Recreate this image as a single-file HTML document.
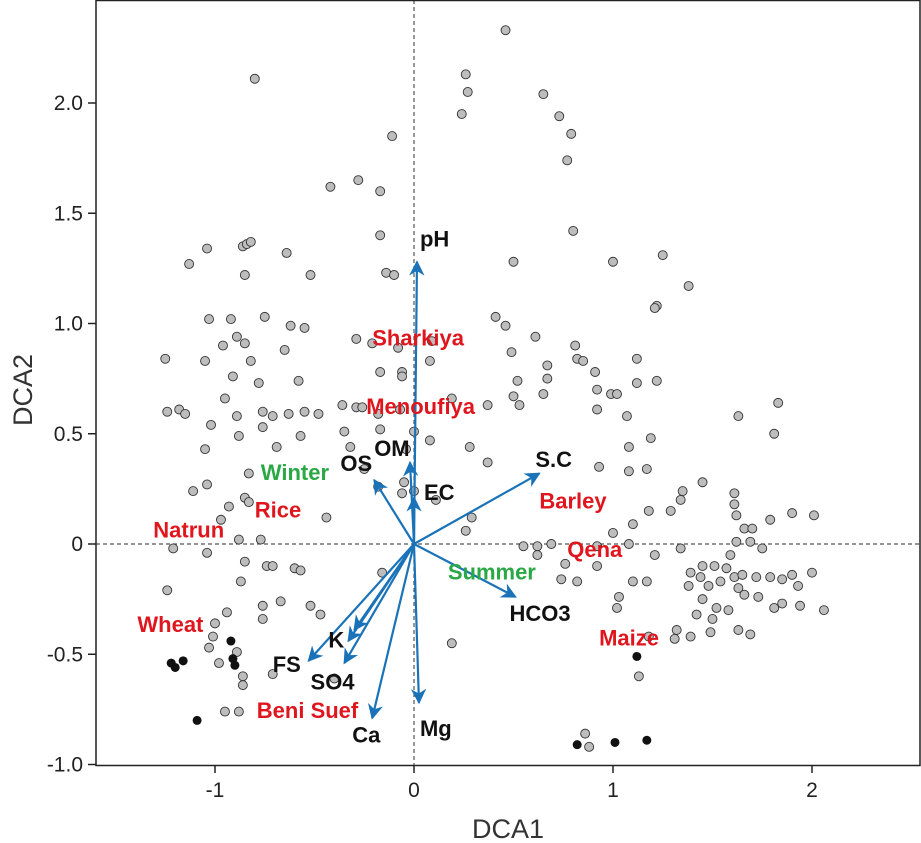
<!DOCTYPE html>
<html><head><meta charset="utf-8"><style>
html,body{margin:0;padding:0;background:#fff;}
svg{display:block;font-family:"Liberation Sans",sans-serif;}
</style></head><body>
<svg id="chart" width="921" height="843" viewBox="0 0 921 843" xmlns="http://www.w3.org/2000/svg">
<defs><marker id="ah" viewBox="0 0 10 10" refX="9" refY="5" markerWidth="7" markerHeight="7" orient="auto-start-reverse"><path d="M0,0 L10,5 L0,10 L3,5 z" fill="#1a73b8"/></marker></defs>
<g id="grid"></g><g id="pts"></g><g id="arrows"></g><g id="labels"></g><g id="axes"></g>
</svg>
<script>
const xTicks=[-1,0,1,2];
const xTickLabels=["-1","0","1","2"];
const yTicks=[-1,-0.5,0,0.5,1,1.5,2];
const yTickLabels=["-1.0","-0.5","0","0.5","1.0","1.5","2.0"];
const grayX=[0.46,0.26,0.27,0.24,0.65,0.73,0.79,0.77,-0.80,-0.11,-0.42,-0.28,-0.17,-0.17,0.80,-1.13,-1.04,-0.86,-0.84,-0.82,-0.64,-0.85,-0.52,-0.14,-0.10,0.50,1.00,1.25,1.38,1.22,1.21,-1.03,-0.92,-0.75,-0.62,-0.55,-0.29,-0.21,-0.08,-1.25,-1.05,-0.89,-0.85,-0.82,-0.96,-0.65,0.09,0.08,-0.06,-0.06,-0.17,0.41,0.46,0.61,0.81,0.82,0.85,0.67,0.49,0.52,0.67,0.91,1.12,1.12,1.22,0.92,0.99,1.02,0.50,0.53,0.65,1.07,0.92,0.37,0.19,-0.91,-0.78,-0.58,-1.18,-1.24,-1.15,-0.95,-0.89,-0.76,-0.71,-0.63,-0.55,-0.48,-0.36,-0.35,-0.29,-0.26,-0.18,-0.07,0.08,0.00,-1.05,-1.02,-0.88,-0.76,-0.69,-0.57,-0.32,-0.25,-0.17,-0.04,0.28,0.37,1.83,1.81,1.63,1.19,1.08,1.08,0.93,1.17,1.35,1.34,1.29,1.45,1.61,1.61,1.62,1.66,1.70,1.79,1.90,2.01,1.18,1.10,1.08,1.00,0.92,0.69,0.55,0.62,0.29,0.26,0.11,-0.05,-0.06,0.00,-0.18,-0.83,-1.04,-1.11,-0.85,-0.83,-0.93,-0.97,-0.44,-0.88,-0.77,-1.21,-1.04,-0.85,-0.74,-0.71,-0.60,-0.57,-0.87,-1.24,-0.94,-0.76,-0.76,-0.67,-0.52,-0.47,-0.16,-1.00,-1.01,-0.89,-1.03,-0.86,-0.86,-0.95,-0.88,-0.71,0.19,0.62,0.76,0.92,0.82,0.74,1.03,1.02,1.10,1.17,1.21,1.34,1.45,1.39,1.38,1.44,1.48,1.51,1.54,1.57,1.59,1.62,1.69,1.75,1.61,1.65,1.63,1.66,1.72,1.79,1.85,1.90,1.93,2.00,2.06,1.94,1.85,1.81,1.73,1.58,1.52,1.45,1.50,1.42,1.49,1.39,1.31,1.18,1.63,1.69,1.32,1.13,0.86,0.88,-0.40,-0.98];
const grayY=[2.33,2.13,2.05,1.95,2.04,1.94,1.86,1.74,2.11,1.85,1.62,1.65,1.60,1.40,1.42,1.27,1.34,1.35,1.36,1.37,1.32,1.22,1.22,1.23,1.22,1.28,1.28,1.31,1.17,1.08,1.07,1.02,1.02,1.03,0.99,0.98,0.93,0.91,0.89,0.84,0.83,0.94,0.91,0.83,0.90,0.88,0.92,0.83,0.78,0.76,0.78,1.03,0.99,0.94,0.90,0.84,0.83,0.81,0.87,0.74,0.75,0.78,0.84,0.73,0.74,0.70,0.68,0.68,0.67,0.63,0.68,0.58,0.61,0.63,0.66,0.76,0.73,0.74,0.61,0.60,0.59,0.66,0.58,0.60,0.58,0.59,0.60,0.59,0.63,0.51,0.62,0.62,0.59,0.61,0.47,0.51,0.43,0.54,0.49,0.53,0.44,0.49,0.44,0.34,0.52,0.43,0.44,0.37,0.64,0.50,0.58,0.48,0.44,0.33,0.35,0.34,0.24,0.20,0.15,0.28,0.23,0.18,0.13,0.07,0.07,0.11,0.14,0.13,0.15,0.09,0.00,0.05,-0.01,0.00,-0.01,-0.01,0.12,0.06,0.20,0.28,0.23,0.24,0.26,0.32,0.27,0.24,0.21,0.19,0.17,0.11,0.12,0.02,0.02,-0.02,-0.04,-0.08,-0.10,-0.10,-0.11,-0.12,-0.17,-0.21,-0.31,-0.28,-0.34,-0.26,-0.28,-0.32,-0.13,-0.36,-0.42,-0.49,-0.47,-0.60,-0.64,-0.76,-0.76,-0.59,-0.45,-0.05,-0.09,-0.10,-0.17,-0.16,-0.24,-0.29,-0.17,-0.17,-0.05,-0.02,-0.10,-0.13,-0.19,-0.15,-0.19,-0.10,-0.17,-0.11,-0.05,0.01,0.01,-0.02,-0.15,-0.14,-0.20,-0.23,-0.15,-0.15,-0.16,-0.14,-0.19,-0.13,-0.30,-0.28,-0.27,-0.29,-0.24,-0.30,-0.29,-0.25,-0.34,-0.32,-0.40,-0.42,-0.43,-0.42,-0.39,-0.41,-0.39,-0.60,-0.86,-0.92,-0.61,-0.54];
const blackX=[0.82,1.01,1.17,1.12,-1.09,-1.22,-1.20,-1.16,-0.92,-0.91,-0.90];
const blackY=[-0.91,-0.90,-0.89,-0.51,-0.80,-0.54,-0.56,-0.53,-0.44,-0.52,-0.55];
const arrowNames=["pH","S.C","HCO3","Mg","Ca","SO4","FS","K","K2","OS","OM","EC"];
const arrowX=[0.015,0.63,0.51,0.025,-0.21,-0.35,-0.53,-0.33,-0.30,-0.20,-0.02,0.0];
const arrowY=[1.28,0.32,-0.24,-0.72,-0.79,-0.54,-0.53,-0.44,-0.39,0.29,0.37,0.21];
const labelText=["pH","OM","OS","EC","S.C","HCO3","Mg","Ca","SO4","FS","K","Sharkiya","Menoufiya","Rice","Natrun","Wheat","Beni Suef","Barley","Qena","Maize","Winter","Summer"];
const labelX=[0.03,-0.20,-0.37,0.05,0.61,0.48,0.03,-0.31,-0.52,-0.71,-0.43,-0.21,-0.24,-0.80,-1.31,-1.39,-0.79,0.63,0.77,0.93,-0.77,0.17];
const labelY=[1.35,0.40,0.33,0.20,0.35,-0.35,-0.87,-0.90,-0.66,-0.58,-0.47,0.90,0.59,0.12,0.03,-0.40,-0.79,0.16,-0.06,-0.46,0.29,-0.16];
const labelColor=["#111","#111","#111","#111","#111","#111","#111","#111","#111","#111","#111","#e0161e","#e0161e","#e0161e","#e0161e","#e0161e","#e0161e","#e0161e","#e0161e","#e0161e","#2aa845","#2aa845"];

const L=96,R=920,T=0,B=765;
const sx=v=>414+v*199, sy=v=>544-v*220.5;
const NS="http://www.w3.org/2000/svg";
function mk(tag,attrs,parent){const e=document.createElementNS(NS,tag);for(const k in attrs)e.setAttribute(k,attrs[k]);parent.appendChild(e);return e;}
const grid=document.getElementById('grid'),pts=document.getElementById('pts'),arr=document.getElementById('arrows'),lab=document.getElementById('labels'),ax=document.getElementById('axes');
let e;
e=mk('line',{x1:sx(0),x2:sx(0),y1:T,y2:B,stroke:'#555','stroke-width':1.2,'stroke-dasharray':'4,3'},grid);


e=mk('line',{x1:L,x2:R,y1:sy(0),y2:sy(0),stroke:'#555','stroke-width':1.2,'stroke-dasharray':'4,3'},grid);


for(let i=0;i<grayX.length;i++){
 e=mk('circle',{cx:sx(grayX[i]),cy:sy(grayY[i]),r:4.5,fill:'#bdbdbd',stroke:'#333','stroke-width':0.9},pts);
 
 
}
for(let i=0;i<blackX.length;i++){
 e=mk('circle',{cx:sx(blackX[i]),cy:sy(blackY[i]),r:4.5,fill:'#111'},pts);
 
 
}
for(let i=0;i<arrowX.length;i++){
 e=mk('line',{x1:sx(0),y1:sy(0),x2:sx(arrowX[i]),y2:sy(arrowY[i]),stroke:'#1a73b8','stroke-width':2.2,'marker-end':'url(#ah)'},arr);
 
 
}
for(let i=0;i<labelText.length;i++){
 e=mk('text',{x:sx(labelX[i]),y:sy(labelY[i]),fill:labelColor[i],'font-size':22,'font-weight':'bold'},lab);
 e.textContent=labelText[i];
 
 
}
e=mk('rect',{x:L,y:T+0.5,width:R-L,height:B-T,fill:'none',stroke:'#222','stroke-width':1.5},ax);


for(let i=0;i<xTicks.length;i++){
 mk('line',{x1:sx(xTicks[i]),x2:sx(xTicks[i]),y1:B,y2:B+8,stroke:'#222','stroke-width':1.5},ax);
 e=mk('text',{x:sx(xTicks[i]),y:B+32,'text-anchor':'middle','font-size':21,fill:'#222'},ax);
 e.textContent=xTickLabels[i];
 
 
}
for(let i=0;i<yTicks.length;i++){
 mk('line',{x1:L-8,x2:L,y1:sy(yTicks[i]),y2:sy(yTicks[i]),stroke:'#222','stroke-width':1.5},ax);
 e=mk('text',{x:L-13,y:sy(yTicks[i])+7,'text-anchor':'end','font-size':21,fill:'#222'},ax);
 e.textContent=yTickLabels[i];
 
 
}
e=mk('text',{x:508,y:838,'text-anchor':'middle','font-size':27,fill:'#333'},ax);
e.textContent='DCA1';


e=mk('text',{x:0,y:0,'text-anchor':'middle','font-size':27,fill:'#333',transform:'translate(32,390) rotate(-90)'},ax);
e.textContent='DCA2';


</script>
</body></html>
